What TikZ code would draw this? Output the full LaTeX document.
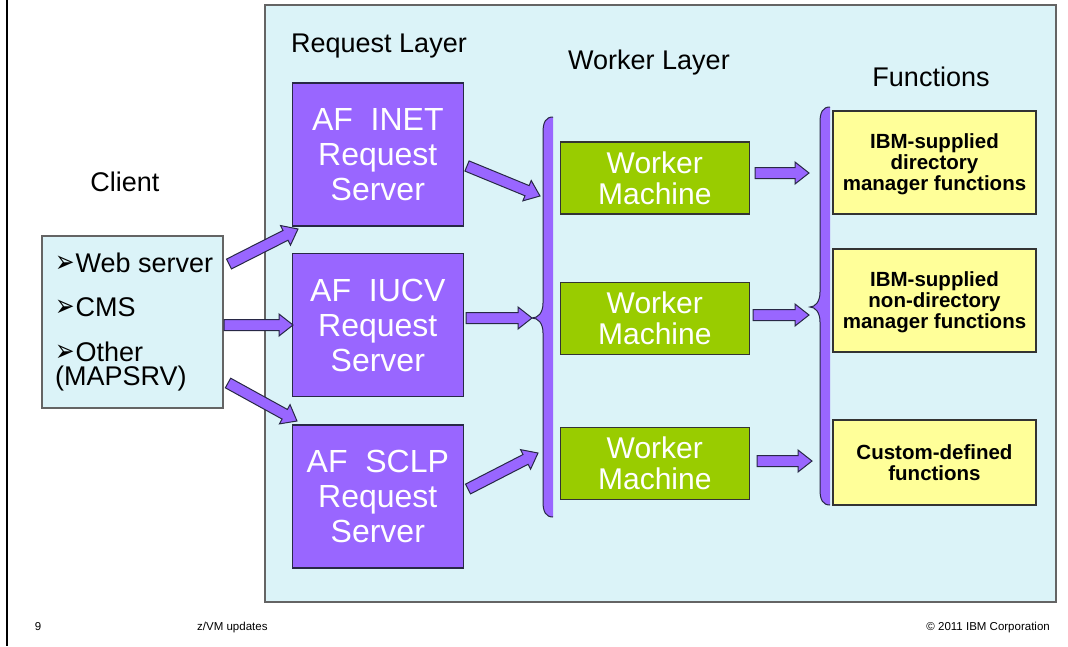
\documentclass[tikz,border=0pt]{standalone}
\usepackage{fontspec}
\setmainfont{Liberation Sans}
\newfontfamily\dingfont{DejaVu Sans}
\usetikzlibrary{positioning, calc}
\definecolor{panelcyan}{RGB}{219,243,248}
\definecolor{srvpurple}{RGB}{153,102,255}
\definecolor{wrkgreen}{RGB}{153,204,0}
\definecolor{fnyellow}{RGB}{255,255,153}
\definecolor{framegray}{RGB}{100,100,100}
\definecolor{edgedark}{RGB}{40,40,70}
\newcommand{\itembullet}{\scalebox{0.75}[1]{\dingfont\fontsize{31}{31}\selectfont ➢}\hspace{1pt}}
\tikzset{
x=1pt, y=-1pt, % one unit is one pixel of the slide, y runs down
panel/.style={draw=framegray, line width=1.4pt, fill=panelcyan}, % the big layer panel and the client box
server/.style={draw=edgedark, line width=1.2pt, fill=srvpurple, text=white, minimum width=171pt, minimum height=143pt, align=center, font=\fontsize{32}{35}\selectfont}, % request servers
worker/.style={draw=black!80, line width=1.2pt, fill=wrkgreen, text=white, minimum width=189pt, minimum height=72pt, align=center, font=\fontsize{30}{31}\selectfont}, % worker machines
func/.style={draw=black!80, line width=1.2pt, fill=fnyellow, minimum width=203pt, align=center, text depth=0pt, font=\fontsize{20.5}{21}\selectfont\bfseries}, % function boxes
heading/.style={anchor=base, font=\fontsize{27}{32}\selectfont}, % column titles
item/.style={anchor=base west, align=left, inner sep=0pt, font=\fontsize{27}{24}\selectfont}, % client list entries
footer/.style={anchor=base, inner sep=0pt, font=\fontsize{11.5}{13}\selectfont}, % slide footer
bracket/.style={draw=edgedark, line width=1pt, fill=srvpurple}, % purple curly brackets
blockarrow/.style={draw=edgedark, line width=1pt, fill=srvpurple, line join=miter,
  to path={
    -- ($(\tikztostart)!5.5pt!90:(\tikztotarget)$)
    -- ($($(\tikztotarget)!14pt!(\tikztostart)$)!5.5pt!90:(\tikztotarget)$)
    -- ($($(\tikztotarget)!14pt!(\tikztostart)$)!11pt!90:(\tikztotarget)$)
    -- (\tikztotarget)
    -- ($($(\tikztotarget)!14pt!(\tikztostart)$)!11pt!-90:(\tikztotarget)$)
    -- ($($(\tikztotarget)!14pt!(\tikztostart)$)!5.5pt!-90:(\tikztotarget)$)
    -- ($(\tikztostart)!5.5pt!-90:(\tikztotarget)$)
    -- cycle}}, % fat arrows between the layers
}

\begin{document}
\begin{tikzpicture}
\useasboundingbox (0,0) rectangle (1068,646);

% slide frame and panel
\draw[line width=1.3pt] (7,0) -- (7,646);
\draw[panel] (265,5) rectangle (1056,602);

% headings
\node[heading] (clienthead) at (125,191.5) {Client};
\node[heading] (reqhead) at (379,52.5) {Request Layer};
\node[heading] (wrkhead) at (649,69) {Worker Layer};
\node[heading] (fnhead) at (931,86) {Functions};

% client box
\node[panel, minimum width=181pt, minimum height=172pt] (cl) at (132.5,322) {};
\node[item] (web) at (55,272.5) {\itembullet Web server};
\node[item] (cms) at (55,316.5) {\itembullet CMS};
\node[item] (other) at (55,385) {\itembullet Other\\(MAPSRV)};

% request layer
\node[server] (inet) at (377.8,154.5) {AF~~INET\\Request\\Server};
\node[server] (iucv) at (377.8,325) {AF~~IUCV\\Request\\Server};
\node[server] (sclp) at (377.8,496.5) {AF~~SCLP\\Request\\Server};

% worker layer
\node[worker] (w1) at (654.8,178) {Worker\\Machine};
\node[worker] (w2) at (654.8,318.5) {Worker\\Machine};
\node[worker] (w3) at (654.8,463.5) {Worker\\Machine};

% functions
\node[func, minimum height=103pt] (f1) at (934.5,162.5) {IBM-supplied\\directory\\manager functions};
\node[func, minimum height=103pt] (f2) at (934.5,300.5) {IBM-supplied\\non-directory\\manager functions};
\node[func, minimum height=85pt] (f3) at (934.5,462.5) {Custom-defined\\functions};

% brackets
\draw[bracket] (553,117) .. controls (546,117) and (543,122) .. (543,132) -- (543,303)
  .. controls (543,313) and (538,318) .. (532,318) .. controls (538,318) and (543,323) .. (543,333)
  -- (543,502) .. controls (543,512) and (546,517) .. (553,517);
\draw[bracket] (830,107) .. controls (823,107) and (820,112) .. (820,122) -- (820,292)
  .. controls (820,302) and (815,307) .. (810,307) .. controls (815,307) and (820,312) .. (820,322)
  -- (820,490) .. controls (820,500) and (823,505) .. (830,505);

% arrow ends
\coordinate (webout) at (229,264);
\coordinate (cmsout) at (224,325);
\coordinate (otherout) at (228,383);
\coordinate (inetin) at (298,229);
\coordinate (iucvin) at (293,325);
\coordinate (sclpin) at (297,421);
\coordinate (inetout) at (467,166);
\coordinate (iucvout) at (466,318);
\coordinate (sclpout) at (468,489);
\coordinate (lb1) at (540,196);
\coordinate (lb2) at (532,318);
\coordinate (lb3) at (538,453);
\coordinate (w1out) at (755,173);
\coordinate (w2out) at (753,315);
\coordinate (w3out) at (757,461);
\coordinate (rb1) at (809,173);
\coordinate (rb2) at (809,315);
\coordinate (rb3) at (812,461);

\draw[blockarrow] (webout) to (inetin);
\draw[blockarrow] (cmsout) to (iucvin);
\draw[blockarrow] (otherout) to (sclpin);
\draw[blockarrow] (inetout) to (lb1);
\draw[blockarrow] (iucvout) to (lb2);
\draw[blockarrow] (sclpout) to (lb3);
\draw[blockarrow] (w1out) to (rb1);
\draw[blockarrow] (w2out) to (rb2);
\draw[blockarrow] (w3out) to (rb3);

% footer
\node[footer] (pageno) at (38,630) {9};
\node[footer, anchor=base west] (deck) at (197,630) {z/VM updates};
\node[footer, anchor=base east] (copy) at (1050,630) {\textcopyright{} 2011 IBM Corporation};
\end{tikzpicture}
\end{document}
